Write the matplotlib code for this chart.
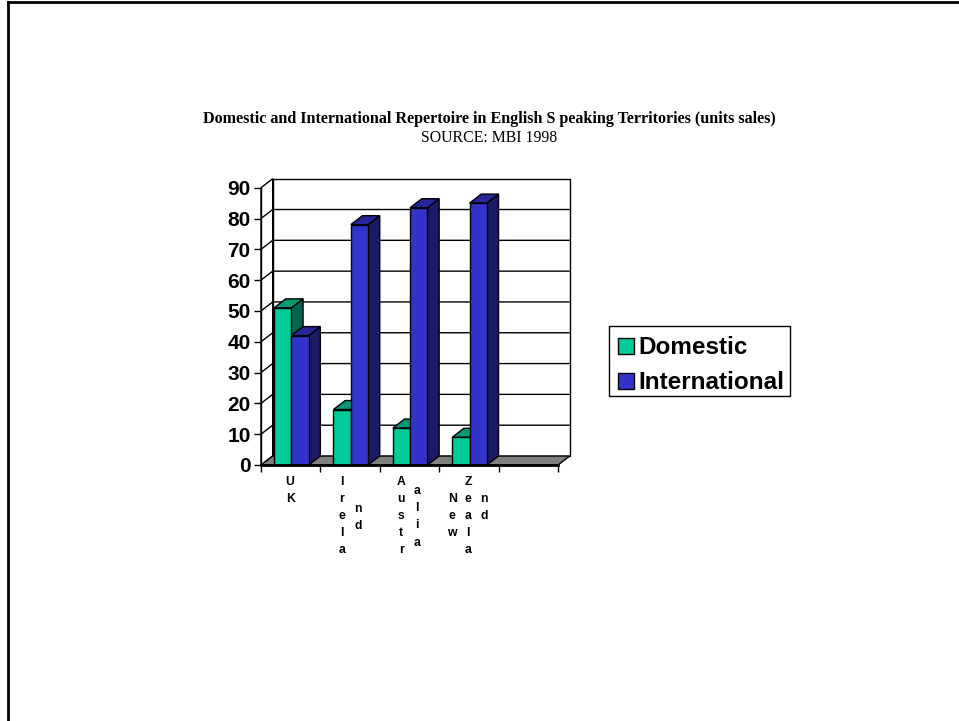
import matplotlib
matplotlib.use("Agg")
import matplotlib.pyplot as plt
from matplotlib.patches import Polygon, Rectangle
from matplotlib.lines import Line2D

categories = ["UK", "Ireland", "Australia", "New Zealand"]
series_names = ["Domestic", "International"]
domestic = [51, 18, 12, 9]
international = [42, 78, 83.5, 85]
y_ticks = list(range(0, 100, 10))
title = "Domestic and International Repertoire in English S peaking Territories (units sales)"
subtitle = "SOURCE: MBI 1998"
# columns of the broken, stacked category labels: (category slot, x shift, row shift, text)
label_columns = [
    (0, 0.49, 0, "U\nK"),
    (1, 0.36, 0, "I\nr\ne\nl\na"),
    (1, 0.63, 1.6, "n\nd"),
    (2, 0.36, 0, "A\nu\ns\nt\nr"),
    (2, 0.62, 0.55, "a\nl\ni\na"),
    (3, 0.22, 1, "N\ne\nw"),
    (3, 0.49, 0, "Z\ne\na\nl\na"),
    (3, 0.76, 1, "n\nd"),
]

W, H = 959, 721
fig = plt.figure(figsize=(W / 100, H / 100), dpi=100, facecolor="white")
ax = fig.add_axes([261 / W, 1 - 465 / H, 297 / W, 277.3 / H])
ax.set_xlim(0, 5)
ax.set_ylim(0, 90)
ax.patch.set_visible(False)

DX, DY = 0.197, 2.92     # oblique depth in data units
dom_front, dom_top, dom_side = "#00CC99", "#009973", "#006650"
int_front, int_top, int_side = "#3333CC", "#262699", "#1A1A66"
EDGE = dict(edgecolor="black", linewidth=1.0, clip_on=False, joinstyle="miter")


def poly(pts, fc, z, **kw):
    style = dict(EDGE)
    style.update(kw)
    ax.add_patch(Polygon(pts, closed=True, facecolor=fc, zorder=z, **style))


# back wall, left wall, floor
poly([(DX, DY), (5 + DX, DY), (5 + DX, 90 + DY), (DX, 90 + DY)], "white", 1)
poly([(0, 0), (DX, DY), (DX, 90 + DY), (0, 90)], "white", 1)
poly([(0, 0), (5, 0), (5 + DX, DY), (DX, DY)], "#808080", 2)
for t in y_ticks[1:-1]:
    ax.plot([0, DX, 5 + DX], [t, t + DY, t + DY], color="black", lw=1.0, zorder=2,
            clip_on=False, solid_capstyle="butt")


def bar3d(x0, w, v, front, top, side, z):
    poly([(x0 + w, 0), (x0 + w + DX, DY), (x0 + w + DX, v + DY), (x0 + w, v)], side, z)
    poly([(x0, v), (x0 + w, v), (x0 + w + DX, v + DY), (x0 + DX, v + DY)], top, z)
    poly([(x0, 0), (x0 + w, 0), (x0 + w, v), (x0, v)], front, z + 0.1)


BAR_W = 0.291
OFFSET = 0.22
for i, (d, n) in enumerate(zip(domestic, international)):
    z = 3 + i
    bar3d(i + OFFSET, BAR_W, d, dom_front, dom_top, dom_side, z)
    bar3d(i + OFFSET + BAR_W, BAR_W, n, int_front, int_top, int_side, z + 0.3)

# axes
for s in ("top", "right"):
    ax.spines[s].set_visible(False)
for s in ("left", "bottom"):
    ax.spines[s].set_linewidth(1.0)
    ax.spines[s].set_zorder(9)
ax.spines["bottom"].set_linewidth(2.0)
ax.set_yticks(y_ticks)
ax.set_yticklabels([str(t) for t in y_ticks], fontfamily="Liberation Sans",
                   fontweight="bold", fontsize=15)
ax.set_xticks(range(6))
ax.set_xticklabels([])
ax.tick_params(axis="both", length=5, width=1.0, color="black", pad=2.5)

# stacked category labels
for slot, shift, row, txt in label_columns:
    ax.annotate(txt, xy=(slot + shift, 0), xytext=(0, -11 - row * 17.1),
                textcoords="offset pixels", ha="center", va="top",
                fontfamily="Liberation Sans", fontweight="bold", fontsize=8.8,
                linespacing=1.56, annotation_clip=False)

# legend: box drawn on its own so the rows sit where they do in the reference
fig.add_artist(Rectangle((608.5 / W, 1 - 396 / H), 181 / W, 70 / H,
                         transform=fig.transFigure, facecolor="white",
                         edgecolor="black", linewidth=1.0))
handles = [Rectangle((0, 0), 1, 1, facecolor=dom_front, edgecolor="black", linewidth=1.0),
           Rectangle((0, 0), 1, 1, facecolor=int_front, edgecolor="black", linewidth=1.0)]
leg = fig.legend(handles, series_names, loc="upper left",
                 bbox_to_anchor=(617.5 / W, 1 - 336.3 / H), borderaxespad=0,
                 prop=dict(family="Liberation Sans", weight="bold", size=17.5),
                 frameon=False,
                 handlelength=0.66, handleheight=0.66, handletextpad=0.2,
                 labelspacing=0.5, borderpad=0)

# titles
fig.text(489.5 / W, 1 - 119 / H, title, ha="center", va="center",
         fontfamily="Liberation Serif", fontweight="bold", fontsize=11.6)
fig.text(489 / W, 1 - 138 / H, subtitle, ha="center", va="center",
         fontfamily="Liberation Serif", fontsize=11.4)

# page frame
for xs, ys in (([8 / W, 8 / W], [0, 1 - 2 / H]), ([8 / W, 1], [1 - 2 / H, 1 - 2 / H])):
    fig.add_artist(Line2D(xs, ys, transform=fig.transFigure, color="black", lw=2.0,
                          solid_capstyle="projecting"))

fig.savefig("out.png", dpi=100)
